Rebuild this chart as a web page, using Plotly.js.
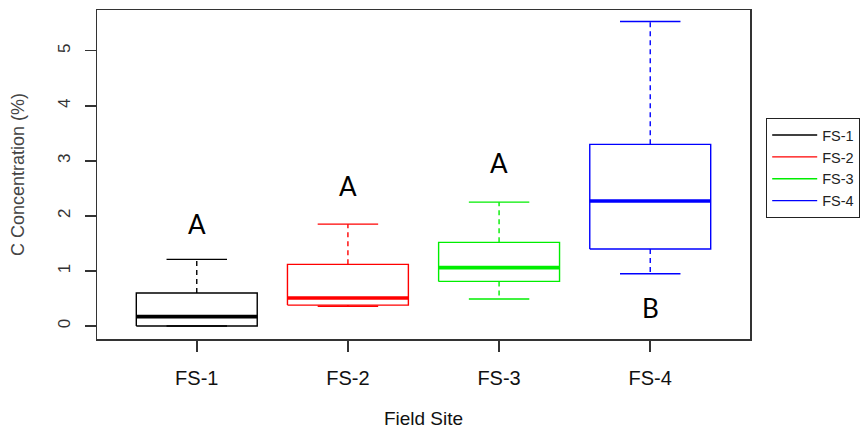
<!DOCTYPE html>
<html>
<head>
<meta charset="utf-8">
<script src="https://cdn.plot.ly/plotly-3.0.1.min.js"></script>
<style>html,body{margin:0;padding:0;background:#fff;}#chart{width:864px;height:429px;}</style>
</head>
<body>
<div id="chart"></div>
<script>
// ---- data ----
const sites   = ['FS-1', 'FS-2', 'FS-3', 'FS-4'];
const lowerW  = [0.00, 0.36, 0.49, 0.95];
const q1      = [0.00, 0.38, 0.81, 1.40];
const median  = [0.17, 0.51, 1.06, 2.27];
const q3      = [0.60, 1.12, 1.52, 3.30];
const upperW  = [1.21, 1.85, 2.25, 5.53];
const letters = ['A', 'A', 'A', 'B'];
const letterY = [1.86, 2.55, 2.97, 0.32];
const colors  = ['#000000', '#FF0000', '#00EE00', '#0000FF'];
const yTicks  = [0, 1, 2, 3, 4, 5];

// ---- styling ----
const BOXW = 0.8, CAPW = 0.4;
const font = 'Liberation Sans, Arial, sans-serif';

const traces = [];
sites.forEach((s, i) => {
  const c = i + 1, L = c - BOXW / 2, R = c + BOXW / 2;
  const col = colors[i];
  traces.push({
    type: 'scatter', mode: 'lines', name: s, legendgroup: s, showlegend: true,
    x: [L, R, R, L, L], y: [q1[i], q1[i], q3[i], q3[i], q1[i]],
    line: {color: col, width: 1.4}, hoverinfo: 'skip'
  });
  traces.push({
    type: 'scatter', mode: 'lines', legendgroup: s, showlegend: false,
    x: [c, c, null, c, c], y: [q3[i], upperW[i], null, q1[i], lowerW[i]],
    line: {color: col, width: 1.4, dash: '5px,4px'}, hoverinfo: 'skip'
  });
  traces.push({
    type: 'scatter', mode: 'lines', legendgroup: s, showlegend: false,
    x: [c - CAPW / 2, c + CAPW / 2, null, c - CAPW / 2, c + CAPW / 2],
    y: [upperW[i], upperW[i], null, lowerW[i], lowerW[i]],
    line: {color: col, width: 1.4}, hoverinfo: 'skip'
  });
  traces.push({
    type: 'scatter', mode: 'lines', legendgroup: s, showlegend: false,
    x: [L, R], y: [median[i], median[i]],
    line: {color: col, width: 3.6}, hoverinfo: 'skip'
  });
});

const annotations = letters.map((t, i) => ({
  x: i + 1, y: letterY[i], xref: 'x', yref: 'y', text: t, showarrow: false,
  xanchor: 'center', yanchor: 'middle',
  font: {family: 'Lato, Carlito, sans-serif', size: 26, color: '#000'}
}));

const layout = {
  width: 864, height: 429,
  margin: {l: 97, r: 114, t: 10, b: 90, autoexpand: false},
  paper_bgcolor: '#fff', plot_bgcolor: '#fff',
  font: {family: font, color: '#222'},
  xaxis: {
    range: [0.34, 4.66], tickvals: [1, 2, 3, 4], ticktext: sites,
    showgrid: false, zeroline: false, showline: true, mirror: true,
    linecolor: '#333', linewidth: 1.5,
    ticks: 'outside', ticklen: 11, tickwidth: 1.5, tickcolor: '#333',
    ticklabelstandoff: 9,
    tickfont: {family: font, size: 20, color: '#111'},
    title: {text: 'Field Site', font: {family: font, size: 19, color: '#111'}, standoff: 24}
  },
  yaxis: {
    range: [-0.236, 5.74], tickvals: yTicks, ticktext: yTicks.map(String),
    tickangle: -90,
    showgrid: false, zeroline: false, showline: true, mirror: true,
    linecolor: '#333', linewidth: 1.5,
    ticks: 'outside', ticklen: 11, tickwidth: 1.5, tickcolor: '#333',
    ticklabelstandoff: 8,
    tickfont: {family: font, size: 17, color: '#333'},
    title: {text: 'C Concentration (%)', font: {family: font, size: 18, color: '#444'}, standoff: 25}
  },
  showlegend: true,
  legend: {
    x: 1.0245, y: 0.672, xanchor: 'left', yanchor: 'top',
    bordercolor: '#222', borderwidth: 1.2, bgcolor: '#fff',
    font: {family: font, size: 14.5, color: '#222'},
    itemwidth: 45, entrywidth: 120, entrywidthmode: 'pixels',
    tracegroupgap: 0
  },
  annotations: annotations
};

Plotly.newPlot('chart', traces, layout, {displayModeBar: false, staticPlot: true});
</script>
</body>
</html>
